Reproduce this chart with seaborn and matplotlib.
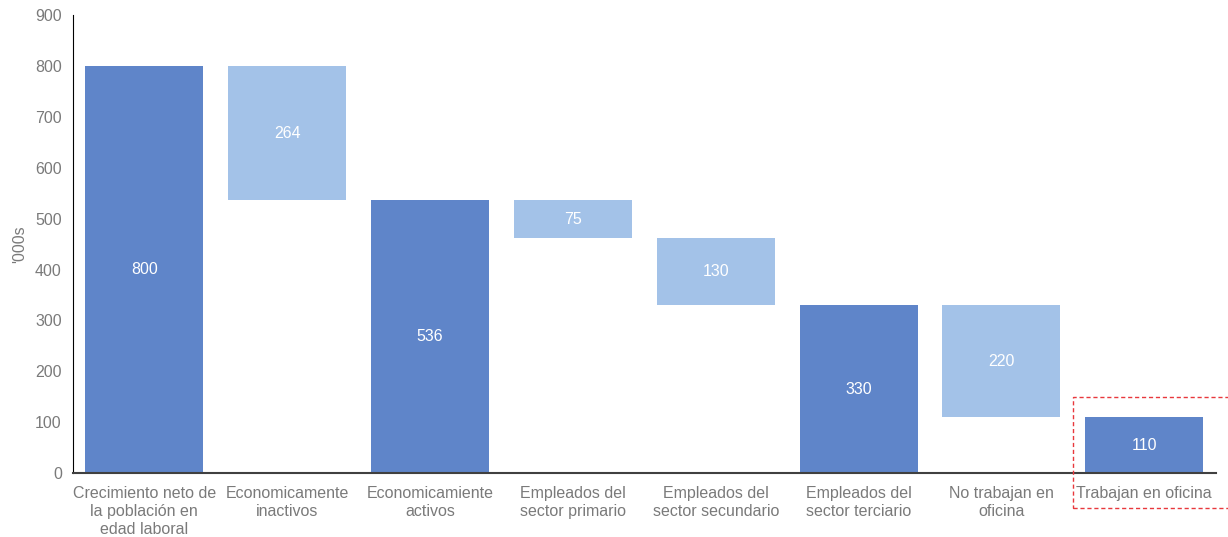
import pandas as pd
import seaborn as sns
import matplotlib.pyplot as plt
from matplotlib.patches import Rectangle

categories = [
    "Crecimiento neto de\nla población en\nedad laboral",
    "Economicamente\ninactivos",
    "Economicamiente\nactivos",
    "Empleados del\nsector primario",
    "Empleados del\nsector secundario",
    "Empleados del\nsector terciario",
    "No trabajan en\noficina",
    "Trabajan en oficina",
]
values = [800, 264, 536, 75, 130, 330, 220, 110]
kinds = ["total", "change", "total", "change", "change", "total", "change", "total"]

DARK = "#5F85C9"
LIGHT = "#A3C2E8"
TEXT = "#7A7A7A"

# waterfall bottoms: totals start at 0, changes hang down from the running level
bottoms = []
level = 0
for v, k in zip(values, kinds):
    if k == "total":
        bottoms.append(0)
        level = v
    else:
        level = level - v
        bottoms.append(level)

df = pd.DataFrame({"cat": categories, "val": values, "bottom": bottoms, "kind": kinds})

sns.set_style("white")
plt.rcParams['font.family'] = ['Liberation Sans', 'DejaVu Sans']

fig = plt.figure(figsize=(12.28, 5.37), dpi=100)
ax = fig.add_axes([0.0594, 0.119, 0.9306, 0.853])

sns.barplot(data=df, x="cat", y="val", order=categories, bottom=df["bottom"],
            color=DARK, width=0.826, errorbar=None, saturation=1, ax=ax)

for p, k, v, b in zip(ax.patches, kinds, values, bottoms):
    p.set_facecolor(DARK if k == "total" else LIGHT)
    p.set_edgecolor("none")
    ax.text(p.get_x() + p.get_width() / 2, b + v / 2, str(v), ha="center", va="center",
            color="white", fontsize=11.5)

ax.set_ylim(0, 900)
ax.set_xlim(-0.5, 7.5)
ax.set_yticks(range(0, 901, 100))
ax.tick_params(axis="both", length=0, labelsize=11.5, colors=TEXT, pad=8)
ax.tick_params(axis="x", pad=9)
for lbl in ax.get_xticklabels():
    lbl.set_linespacing(1.25)
ax.set_xlabel("")
ax.set_ylabel("'000s", fontsize=11.5, color=TEXT, labelpad=6)

for s in ["top", "right"]:
    ax.spines[s].set_visible(False)
ax.spines["left"].set_color("black")
ax.spines["left"].set_linewidth(0.8)
ax.spines["bottom"].set_color("#404040")
ax.spines["bottom"].set_linewidth(1.5)

# dashed highlight around the last category
box = Rectangle((1073 / 1228, (537 - 508) / 537), 160 / 1228, 111 / 537,
                transform=fig.transFigure, fill=False, edgecolor="#E8383D",
                linestyle=(0, (3, 2)), linewidth=1.0, clip_on=False)
fig.add_artist(box)

fig.savefig("out.png", dpi=100)
